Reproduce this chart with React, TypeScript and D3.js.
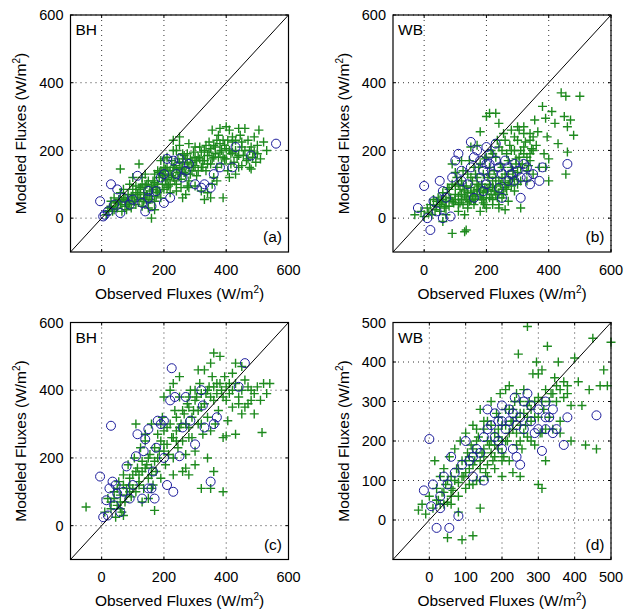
import React from "react";
import * as d3 from "d3";

// Observed vs modeled fluxes (W/m2), values read off the figure
// panel (a) BH, top row
const greenA: [number, number][] = [
  [20, 20], [30, 35], [40, 25], [45, 45], [50, 30], [55, 55], [60, 40], [65, 20], [70, 60], [75, 35],
  [80, 50], [85, 70], [90, 45], [95, 30], [100, 60], [30, 50], [15, 10], [40, 60], [60, 75], [80, 25],
  [100, 85], [110, 40], [115, 70], [120, 55], [125, 90], [130, 35], [135, 75], [140, 60], [145, 100], [150, 45],
  [155, 80], [160, 65], [165, 110], [170, 50], [175, 90], [180, 75], [185, 120], [190, 60], [195, 100], [200, 85],
  [160, 0], [150, 30], [170, 25], [110, 95], [90, 100], [70, 85], [60, 145], [120, 160], [130, 120], [140, 130],
  [100, 120], [200, 130], [205, 110], [210, 150], [215, 95], [220, 140], [225, 170], [230, 120], [235, 155], [240, 100],
  [245, 135], [250, 165], [255, 115], [260, 145], [265, 185], [270, 130], [275, 160], [280, 110], [285, 175], [290, 140],
  [295, 195], [300, 155], [305, 125], [310, 180], [315, 210], [320, 150], [325, 170], [330, 200], [335, 140], [340, 185],
  [345, 225], [350, 160], [230, 200], [250, 215], [240, 80], [260, 60], [270, 70], [280, 90], [300, 95], [320, 80],
  [330, 55], [340, 75], [350, 60], [355, 100], [230, 230], [250, 240], [210, 180], [190, 170], [180, 140], [170, 130],
  [200, 175], [220, 75], [255, 90], [275, 95], [360, 180], [365, 210], [370, 150], [375, 245], [380, 195], [385, 160],
  [390, 230], [395, 175], [400, 205], [405, 140], [410, 260], [415, 190], [420, 225], [425, 165], [430, 200], [435, 180],
  [440, 150], [445, 245], [450, 210], [455, 185], [460, 265], [465, 170], [470, 230], [475, 200], [480, 145], [485, 180],
  [490, 240], [495, 165], [500, 190], [505, 260], [510, 175], [520, 225], [530, 200], [355, 260], [380, 265], [400, 270],
  [420, 240], [440, 265], [390, 60], [370, 110], [360, 120], [410, 120], [430, 130], [450, 155], [475, 150],
  [25, 30], [35, 20], [50, 45], [65, 50], [75, 55], [85, 40], [95, 65], [105, 50], [110, 75], [120, 85],
  [125, 60], [135, 50], [140, 95], [145, 70], [150, 110], [155, 55], [165, 85], [170, 105], [175, 65], [180, 100],
  [185, 80], [190, 140], [195, 125], [205, 145], [210, 115], [215, 130], [220, 100], [225, 125], [230, 150], [235, 110],
  [240, 145], [245, 175], [250, 130], [255, 150], [260, 165], [265, 135], [270, 175], [275, 190], [280, 150], [285, 130],
  [290, 165], [295, 150], [300, 180], [305, 170], [310, 140], [315, 175], [320, 195], [325, 150], [330, 170], [335, 215],
  [340, 160], [345, 195], [350, 205], [355, 175], [360, 215], [365, 190], [370, 230], [375, 180], [380, 220], [385, 200],
  [390, 180], [395, 215], [400, 175], [405, 230], [410, 200], [415, 160], [420, 195], [430, 230], [440, 185], [450, 225],
  [460, 200], [470, 175], [480, 210], [490, 195], [500, 215], [240, 200], [260, 190], [280, 220], [300, 210], [200, 150],
  [185, 135], [210, 90], [130, 100], [160, 95],
];
const blueA: [number, number][] = [
  [-5, 50], [5, 5], [10, 10], [20, 20], [30, 100], [40, 40], [50, 85], [60, 15], [70, 60], [90, 40],
  [100, 55], [115, 125], [130, 45], [140, 20], [150, 80], [160, 35], [175, 80], [190, 120], [200, 45], [210, 175],
  [220, 60], [230, 170], [240, 130], [250, 175], [260, 120], [280, 160], [300, 100], [320, 90], [330, 100], [350, 90],
  [360, 130], [380, 150], [420, 150], [430, 210], [480, 185], [560, 220], [200, 130], [150, 60], [270, 140],
];

// panel (b) WB, top row
const greenB: [number, number][] = [
  [-30, 10], [-10, 20], [0, 5], [10, 30], [15, 15], [20, 40], [25, 10], [30, 55], [35, 25], [40, 35],
  [45, 60], [50, 20], [55, 45], [60, 75], [65, 30], [70, 50], [75, 90], [80, 35], [85, 60], [90, 100],
  [95, 45], [100, 70], [105, 120], [110, 40], [115, 85], [120, 55], [125, 140], [130, 65], [135, 95], [140, 45],
  [145, 170], [150, 75], [155, 110], [160, 55], [165, 130], [170, 85], [175, 150], [180, 65], [185, 100], [190, 45],
  [195, 175], [200, 80], [205, 120], [210, 60], [215, 200], [220, 90], [225, 140], [230, 70], [235, 230], [240, 110],
  [245, 160], [250, 85], [255, 250], [260, 130], [265, 190], [270, 100], [275, 215], [280, 150], [285, 120], [290, 240],
  [295, 175], [300, 135], [305, 260], [310, 200], [315, 160], [320, 270], [325, 225], [330, 180], [335, 155], [340, 250],
  [345, 205], [350, 240], [355, 290], [360, 215], [365, 255], [370, 150], [380, 330], [385, 190], [390, 295], [395, 240],
  [400, 175], [410, 315], [420, 280], [430, 220], [440, 370], [450, 300], [455, 360], [460, 270], [470, 290], [480, 245],
  [500, 360], [460, 195], [455, 130], [400, 110], [390, 150], [330, 110], [310, 30], [250, 60], [240, 40], [200, 30],
  [180, 20], [160, 40], [150, 55], [140, 30], [130, -40], [135, -35], [90, -45], [125, 95], [100, 135], [90, 160],
  [120, 170], [150, 210], [170, 215], [200, 300], [210, 310], [230, 310], [180, 255], [240, 280], [260, 90], [290, 80],
  [270, 50], [220, 40], [190, 60], [110, 20], [70, 10], [60, -10], [130, 10], [170, 100], [210, 150], [230, 180],
  [250, 200], [280, 200], [300, 230], [320, 210], [340, 190], [310, 110], [350, 130],
  [40, 50], [50, 40], [60, 55], [70, 35], [80, 60], [90, 50], [100, 55], [110, 65], [115, 45], [120, 70],
  [125, 40], [130, 80], [135, 60], [140, 75], [145, 50], [150, 90], [155, 65], [160, 80], [165, 55], [170, 70],
  [175, 95], [180, 80], [185, 55], [190, 75], [195, 90], [200, 60], [205, 85], [210, 100], [215, 70], [220, 110],
  [225, 80], [230, 95], [235, 60], [240, 75], [245, 100], [250, 120], [255, 70], [260, 105], [265, 85], [270, 130],
  [275, 110], [280, 95], [285, 140], [290, 115], [295, 160], [300, 100], [305, 180], [310, 150], [320, 190], [330, 140],
  [340, 170], [350, 200], [200, 180], [220, 190], [240, 210], [260, 230], [280, 260], [300, 270], [320, 250], [340, 230],
  [180, 160], [160, 150], [140, 130], [120, 110], [100, 95], [80, 85], [60, 65], [190, 130], [210, 130], [230, 120],
  [250, 150], [270, 170], [290, 200], [170, 120], [150, 120], [110, 100], [195, 40], [220, 55], [240, 30], [260, 25],
];
const blueB: [number, number][] = [
  [-20, 30], [0, 95], [10, 0], [20, -35], [30, 50], [40, 20], [50, 110], [60, 0], [70, 60], [85, 5],
  [100, 170], [110, 190], [120, 140], [140, 100], [150, 225], [160, 60], [170, 200], [180, 120], [190, 80], [200, 210],
  [210, 160], [220, 130], [230, 220], [240, 90], [250, 60], [260, 170], [270, 150], [280, 130], [290, 110], [300, 140],
  [310, 60], [320, 160], [330, 120], [340, 100], [350, 130], [370, 110], [380, 150], [460, 160], [200, 100], [150, 150],
  [120, 110], [160, 180], [180, 170], [190, 140], [210, 190], [230, 170], [250, 130], [270, 110], [290, 160], [310, 120],
  [330, 150], [240, 150], [200, 160], [90, 120], [60, 80],
];

// panel (c) BH, bottom row
const greenC: [number, number][] = [
  [-50, 55], [10, 40], [20, 80], [30, 50], [40, 100], [50, 60], [55, 130], [60, 90], [65, 40], [70, 150],
  [75, 70], [80, 110], [85, 180], [90, 120], [95, 85], [100, 150], [105, 200], [110, 100], [115, 170], [120, 130],
  [125, 230], [130, 160], [135, 110], [140, 250], [145, 180], [150, 140], [155, 210], [160, 300], [165, 120], [170, 190],
  [175, 160], [180, 270], [185, 220], [190, 140], [195, 320], [200, 240], [205, 180], [210, 290], [215, 210], [220, 400],
  [225, 260], [230, 200], [235, 340], [240, 280], [245, 230], [250, 380], [255, 300], [260, 250], [265, 330], [270, 210],
  [275, 360], [280, 290], [285, 400], [290, 260], [295, 340], [300, 220], [305, 380], [310, 300], [315, 420], [320, 350],
  [325, 270], [330, 460], [335, 390], [340, 320], [345, 410], [350, 280], [355, 440], [360, 370], [365, 300], [370, 420],
  [375, 340], [380, 500], [385, 400], [390, 260], [395, 440], [400, 370], [405, 310], [410, 420], [420, 350], [430, 480],
  [440, 380], [450, 330], [460, 430], [470, 360], [480, 400], [490, 330], [500, 410], [510, 370], [520, 420], [530, 390],
  [540, 420], [515, 275], [430, 270], [400, 265], [350, 110], [320, 110], [390, 100], [360, 160], [340, 200], [300, 180],
  [270, 170], [230, 150], [170, 45], [160, 110], [130, 70], [110, 300], [140, 270], [190, 300], [200, 380], [230, 420],
  [250, 440], [280, 380], [360, 510], [310, 460], [350, 480], [300, 400], [420, 450], [450, 470], [260, 160], [280, 150],
  [150, 80], [70, 30], [45, 25],
  [30, 70], [40, 80], [50, 110], [60, 70], [70, 120], [80, 90], [90, 140], [100, 110], [110, 160], [120, 150],
  [130, 190], [140, 170], [150, 200], [160, 170], [170, 230], [180, 200], [190, 250], [200, 280], [210, 240], [220, 300],
  [230, 260], [240, 320], [250, 290], [260, 340], [270, 300], [280, 350], [290, 320], [300, 370], [310, 340], [320, 390],
  [330, 360], [340, 400], [350, 380], [360, 410], [370, 390], [380, 420], [390, 380], [400, 410], [410, 390], [420, 400],
  [430, 420], [440, 360], [450, 400], [460, 350], [470, 410], [480, 370], [490, 390], [320, 300], [280, 260], [240, 250],
  [200, 220], [160, 150], [120, 120], [90, 100], [60, 50],
];
const blueC: [number, number][] = [
  [-5, 145], [5, 25], [15, 75], [20, 30], [25, 110], [30, 295], [35, 130], [40, 60], [45, 120], [50, 95],
  [60, 40], [70, 100], [80, 175], [90, 80], [100, 120], [110, 205], [115, 270], [130, 80], [135, 220], [140, 255],
  [150, 285], [160, 110], [165, 160], [170, 80], [175, 230], [180, 310], [190, 300], [200, 200], [210, 120], [220, 370],
  [225, 465], [230, 100], [235, 380], [250, 205], [260, 290], [270, 380], [285, 310], [300, 240], [320, 400], [325, 355],
  [330, 290], [350, 130], [360, 300], [370, 320], [440, 410], [460, 480], [150, 110], [200, 310],
];

// panel (d) WB, bottom row
const greenD: [number, number][] = [
  [-30, 25], [-20, 40], [-10, 15], [0, 60], [10, 30], [15, 150], [20, 80], [25, 50], [30, 110], [35, 70],
  [40, 130], [45, 90], [50, 45], [55, 160], [60, 110], [65, 75], [70, 180], [75, 130], [80, 95], [85, 200],
  [90, 150], [95, 110], [100, 220], [105, 170], [110, 130], [115, 190], [120, 240], [125, 150], [130, 100], [135, 210],
  [140, 280], [145, 170], [150, 230], [155, 120], [160, 250], [165, 190], [170, 300], [175, 150], [180, 220], [185, 270],
  [190, 180], [195, 320], [200, 240], [205, 160], [210, 280], [215, 200], [220, 340], [225, 250], [230, 120], [235, 300],
  [240, 220], [245, 420], [250, 270], [255, 180], [260, 330], [265, 240], [270, 490], [275, 300], [280, 200], [285, 370],
  [290, 260], [295, 400], [300, 310], [305, 220], [310, 380], [315, 280], [320, 150], [325, 440], [330, 260], [335, 320],
  [340, 230], [345, 360], [350, 300], [355, 400], [360, 250], [370, 310], [380, 340], [390, 200], [400, 410], [410, 350],
  [420, 290], [430, 190], [440, 330], [450, 460], [460, 180], [470, 340], [480, 380], [490, 340], [500, 450], [360, 220],
  [390, 290], [300, 90], [310, 80], [320, 230], [270, 260], [250, 110], [140, 30], [120, -40], [90, -50], [50, -45],
  [100, 150], [80, 20], [60, 40], [130, 200], [150, 180], [170, 200], [190, 230], [210, 200], [230, 230], [110, 90],
  [120, 180], [200, 170], [220, 150], [250, 200], [280, 250], [200, 110], [160, 140], [140, 150], [180, 160], [230, 280],
  [240, 320], [210, 330], [300, 370],
  [20, 50], [30, 40], [40, 70], [50, 100], [60, 80], [70, 100], [80, 130], [90, 110], [100, 120], [110, 160],
  [120, 140], [130, 170], [140, 130], [150, 160], [160, 200], [170, 170], [180, 190], [190, 210], [200, 200], [210, 240],
  [220, 220], [230, 250], [240, 260], [250, 240], [260, 270], [270, 290], [280, 280], [290, 300], [300, 260], [310, 300],
  [320, 330], [330, 300], [340, 320], [350, 340], [360, 330], [370, 350], [380, 320], [250, 300], [220, 280], [200, 150],
  [180, 130], [160, 110], [140, 100], [120, 90], [100, 80], [80, 60], [60, 60], [40, 40], [270, 210], [290, 190],
  [310, 220], [240, 190], [260, 220], [190, 260], [170, 240], [150, 250], [130, 230],
];
const blueD: [number, number][] = [
  [-15, 75], [0, 205], [5, 35], [10, 90], [20, -20], [30, 60], [40, 110], [55, -20], [60, 160], [70, 120],
  [80, 10], [100, 200], [110, 150], [120, 110], [130, 180], [150, 100], [160, 280], [170, 240], [180, 270], [190, 200],
  [200, 290], [210, 230], [220, 250], [230, 180], [235, 310], [240, 160], [250, 140], [260, 300], [270, 320], [280, 250],
  [290, 220], [300, 280], [310, 175], [320, 260], [340, 280], [350, 230], [370, 190], [380, 260], [460, 265], [150, 210],
  [200, 250], [250, 260], [140, 170], [160, 230], [180, 210], [200, 180], [220, 280], [240, 240], [260, 230], [280, 290],
  [300, 230], [320, 300], [330, 260], [230, 270], [190, 250], [120, 160], [90, 140], [50, 90], [30, 30], [320, 230],
  [340, 220],
];

const ticks600 = [0, 200, 400, 600];
const ticks500 = [0, 100, 200, 300, 400, 500];

const FONT = "'Liberation Sans', Arial, Helvetica, sans-serif";
const GREEN = "#1e8a1e";
const BLUE = "#1c1c9c";

type PanelProps = {
  left: number;
  top: number;
  site: string;
  tag: string;
  max: number;
  ticks: number[];
  green: [number, number][];
  blue: [number, number][];
};

function Panel({ left, top, site, tag, max, ticks, green, blue }: PanelProps) {
  const w = 218, h = 237;
  const x = d3.scaleLinear().domain([-100, max]).range([0, w]);
  const y = d3.scaleLinear().domain([-100, max]).range([h, 0]);
  const tl = 3;
  const arm = 4.5;
  const diag = d3.line<number>().x((d) => x(d)).y((d) => y(d))([-100, max]);
  const label = (
    <>
      {"(W/m"}
      <tspan fontSize={10} dy={-6}>2</tspan>
      <tspan dy={6}>)</tspan>
    </>
  );

  return (
    <g transform={`translate(${left},${top})`}>
      {/* grid */}
      {ticks.map((t) => (
        <g key={"g" + t} stroke="#000" strokeWidth={0.8} strokeDasharray="1,4">
          <line x1={x(t)} x2={x(t)} y1={0} y2={h} />
          <line x1={0} x2={w} y1={y(t)} y2={y(t)} />
        </g>
      ))}

      {/* data: green pluses, then blue circles on top */}
      <g stroke={GREEN} strokeWidth={1.4} fill="none">
        {green.map((d, i) => {
          const cx = x(d[0]), cy = y(d[1]);
          return <path key={i} d={`M${cx - arm},${cy}H${cx + arm}M${cx},${cy - arm}V${cy + arm}`} />;
        })}
      </g>
      <g fill="none" stroke={BLUE} strokeWidth={1}>
        {blue.map((d, i) => (
          <circle key={i} cx={x(d[0])} cy={y(d[1])} r={4.5} />
        ))}
      </g>

      <path d={diag ?? ""} stroke="#000" strokeWidth={1} fill="none" />

      {/* ticks + frame */}
      {ticks.map((t) => (
        <g key={"t" + t} stroke="#000" strokeWidth={1}>
          <line x1={x(t)} x2={x(t)} y1={h} y2={h - tl} />
          <line x1={x(t)} x2={x(t)} y1={0} y2={tl} />
          <line x1={0} x2={tl} y1={y(t)} y2={y(t)} />
          <line x1={w} x2={w - tl} y1={y(t)} y2={y(t)} />
        </g>
      ))}
      <rect x={0} y={0} width={w} height={h} fill="none" stroke="#000" strokeWidth={1.2} />

      {/* tick labels */}
      <g fontFamily={FONT} fontSize={14.5} fill="#000">
        {ticks.map((t) => (
          <text key={"xl" + t} x={x(t)} y={h + 22.5} textAnchor="middle">{t}</text>
        ))}
        {ticks.map((t) => (
          <text key={"yl" + t} x={-7} y={y(t)} dy="0.36em" textAnchor="end">{t}</text>
        ))}
      </g>

      {/* labels */}
      <g fontFamily={FONT} fontSize={15.5} fill="#000">
        <text x={w / 2} y={h + 46.5} textAnchor="middle">Observed Fluxes {label}</text>
        <text transform={`translate(-44.5,${h / 2}) rotate(-90)`} textAnchor="middle">Modeled Fluxes {label}</text>
        <text x={5} y={20}>{site}</text>
        <text x={w - 6.5} y={h - 10} textAnchor="end">({tag})</text>
      </g>
    </g>
  );
}

export default function App() {
  return (
    <svg width={625} height={613} style={{ position: "absolute", left: 0, top: 0, background: "#fff" }}>
      <rect width={625} height={613} fill="#fff" />
      <Panel left={70.5} top={15} site="BH" tag="a" max={600} ticks={ticks600} green={greenA} blue={blueA} />
      <Panel left={393} top={15} site="WB" tag="b" max={600} ticks={ticks600} green={greenB} blue={blueB} />
      <Panel left={70.5} top={322.5} site="BH" tag="c" max={600} ticks={ticks600} green={greenC} blue={blueC} />
      <Panel left={393} top={322.5} site="WB" tag="d" max={500} ticks={ticks500} green={greenD} blue={blueD} />
    </svg>
  );
}
